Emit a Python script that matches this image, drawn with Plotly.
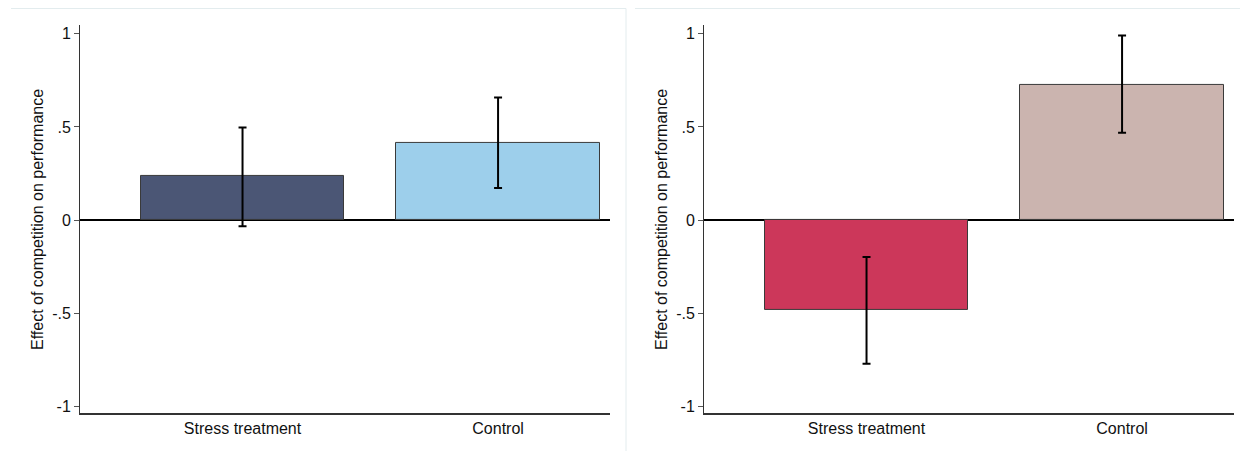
import plotly.graph_objects as go

categories = ["Stress treatment", "Control"]
# Panel A (left)
left_values = [0.235, 0.412]
left_ci_low = [-0.034, 0.172]
left_ci_high = [0.497, 0.658]
left_colors = ["#4b5675", "#9dcfeb"]
# Panel B (right)
right_values = [-0.484, 0.728]
right_ci_low = [-0.772, 0.469]
right_ci_high = [-0.199, 0.991]
right_colors = ["#cc375a", "#cbb4af"]

y_tickvals = [-1, -0.5, 0, 0.5, 1]
y_ticktext = ["-1", "-.5", "0", ".5", "1"]
y_title = "Effect of competition on performance"

# page body has an 8px margin; work in window pixel coordinates
OFF = 8
W, H = 1248 - OFF, 453 - OFF
def px(x):
    return (x - OFF) / W
def py(y):
    return (H - (y - OFF)) / H

FONT = "Liberation Sans, Arial, sans-serif"
FS = 16

fig = go.Figure()
xpos = [0, 1]

def add_panel(vals, lo, hi, colors, xa, ya):
    fig.add_trace(go.Bar(
        x=xpos, y=vals, width=0.795,
        marker=dict(color=colors, line=dict(color="#3a3a3a", width=1)),
        error_y=dict(type="data", symmetric=False,
                     array=[h - v for h, v in zip(hi, vals)],
                     arrayminus=[v - l for l, v in zip(lo, vals)],
                     color="black", thickness=2, width=4),
        xaxis=xa, yaxis=ya, showlegend=False,
    ))

add_panel(left_values, left_ci_low, left_ci_high, left_colors, "x", "y")
add_panel(right_values, right_ci_low, right_ci_high, right_colors, "x2", "y2")

ydom = [py(415), py(25)]
xr = [-0.636, 1.438]
yr = [-1.0374, 1.048]

def xaxis(dom, anchor):
    return dict(domain=dom, anchor=anchor, range=xr, tickvals=xpos, ticktext=categories,
                showline=True, linecolor="#333333", linewidth=1.5, ticks="",
                showgrid=False, zeroline=False, fixedrange=True,
                tickfont=dict(family=FONT, size=FS, color="#111111"))

def yaxis(anchor):
    return dict(domain=ydom, anchor=anchor, range=yr, tickvals=y_tickvals, ticktext=y_ticktext,
                showline=True, linecolor="#333333", linewidth=1, ticks="outside", ticklen=5,
                tickcolor="#555555", showgrid=False, zeroline=True, zerolinecolor="black",
                zerolinewidth=1.5, fixedrange=True,
                tickfont=dict(family=FONT, size=FS, color="#111111"))

fig.update_layout(
    width=W, height=H, margin=dict(l=0, r=0, t=0, b=0),
    paper_bgcolor="white", plot_bgcolor="white",
    bargap=0,
    xaxis=xaxis([px(80), px(610)], "y"),
    yaxis=yaxis("x"),
    xaxis2=xaxis([px(704), px(1234)], "y2"),
    yaxis2=yaxis("x2"),
    annotations=[
        dict(text=y_title, textangle=-90, x=px(37), y=py(221), xref="paper", yref="paper",
             xanchor="center", yanchor="middle",
             showarrow=False, font=dict(family=FONT, size=FS, color="#111111")),
        dict(text=y_title, textangle=-90, x=px(661), y=py(221), xref="paper", yref="paper",
             xanchor="center", yanchor="middle",
             showarrow=False, font=dict(family=FONT, size=FS, color="#111111")),
    ],
    shapes=[
        dict(type="line", xref="paper", yref="paper", x0=px(11), x1=px(626),
             y0=py(8.5), y1=py(8.5), line=dict(color="#e3ecee", width=1)),
        dict(type="line", xref="paper", yref="paper", x0=px(626), x1=px(626),
             y0=0, y1=py(8.5), line=dict(color="#e3ecee", width=1)),
        dict(type="line", xref="paper", yref="paper", x0=px(635), x1=1,
             y0=py(8.5), y1=py(8.5), line=dict(color="#e3ecee", width=1)),
    ],
)

fig.write_html("out.html")
